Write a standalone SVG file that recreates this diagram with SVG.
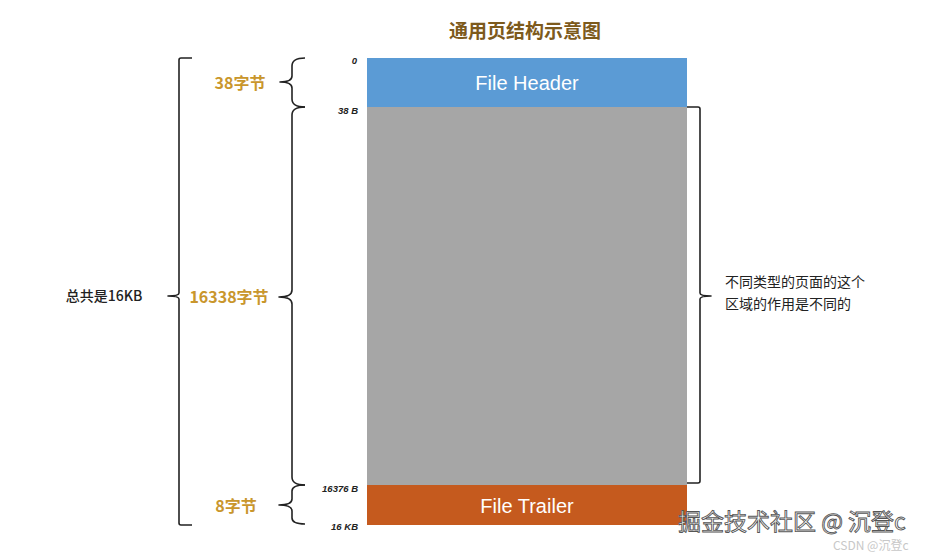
<svg xmlns="http://www.w3.org/2000/svg" width="945" height="554" viewBox="0 0 945 554">
<style>
.brace{fill:none;stroke:#222;stroke-width:1.6;stroke-linejoin:round}
.gold{font-family:"Noto Sans CJK SC","Liberation Sans",sans-serif;font-weight:bold;font-size:16px;fill:#c9962c}
.off{font-family:"Liberation Sans",sans-serif;font-style:italic;font-weight:bold;font-size:9.5px;fill:#222}
.box{font-family:"Liberation Sans",sans-serif;font-size:20px;fill:#fff}
.cn{font-family:"Noto Sans CJK SC",sans-serif;font-size:14px;fill:#222}
</style>
<rect width="945" height="554" fill="#fff"/>
<text x="525" y="38" text-anchor="middle" font-family="Noto Sans CJK SC,sans-serif" font-weight="bold" font-size="19" fill="#7d5a1c">通用页结构示意图</text>
<g id="fileHeader">
<rect x="367" y="58" width="320" height="49" fill="#5b9bd5"/>
<text class="box" x="527" y="90" text-anchor="middle">File Header</text>
</g>
<g id="body">
<rect x="367" y="107" width="320" height="378" fill="#a6a6a6"/>
</g>
<g id="fileTrailer">
<rect x="367" y="485" width="320" height="40" fill="#c55a1e"/>
<text class="box" x="527" y="513" text-anchor="middle">File Trailer</text>
</g>
<g id="offsets">
<text class="off" x="357" y="64" text-anchor="end">0</text>
<text class="off" x="358" y="114" text-anchor="end">38 B</text>
<text class="off" x="358" y="492" text-anchor="end">16376 B</text>
<text class="off" x="358" y="530" text-anchor="end">16 KB</text>
</g>
<g id="connectors">
<path class="brace" d="M305 58 Q292 58 292 66 L292 76 Q292 82 280 82 Q292 82 292 88 L292 99 Q292 107 305 107"/>
<path class="brace" d="M305 107 Q292 107 292 115 L292 290 Q292 297 279 297 Q292 297 292 304 L292 477 Q292 485 305 485"/>
<path class="brace" d="M305 485 Q292 485 292 491 L292 499 Q292 505 279 505 Q292 505 292 511 L292 518 Q292 524 305 524"/>
<path class="brace" d="M192 58 L181 58 Q179 58 179 60 L179 293 Q179 296 168 296 Q179 296 179 299 L179 523 Q179 525 181 525 L192 525"/>
<path class="brace" d="M687 107 L698 107 Q700 107 700 109 L700 293 Q700 296 711 296 Q700 296 700 299 L700 481 Q700 483 698 483 L687 483"/>
</g>
<g id="labels">
<text class="gold" x="240" y="89" text-anchor="middle">38字节</text>
<text class="gold" x="229" y="303" text-anchor="middle">16338字节</text>
<text class="gold" x="236" y="512" text-anchor="middle">8字节</text>
<text class="cn" x="104" y="301" text-anchor="middle" font-weight="500">总共是16KB</text>
<text class="cn" x="725" y="287">不同类型的页面的这个</text>
<text class="cn" x="725" y="309">区域的作用是不同的</text>
</g>
<g id="watermark">
<text x="678" y="530" font-family="Noto Sans CJK SC,sans-serif" font-size="23" fill="#fff" stroke="#555" stroke-width="0.9">掘金技术社区 @ 沉登c</text>
<text x="833" y="550" font-family="Noto Sans CJK SC,sans-serif" font-size="12" fill="#c8c8c8">CSDN @沉登c</text>
</g>
</svg>
